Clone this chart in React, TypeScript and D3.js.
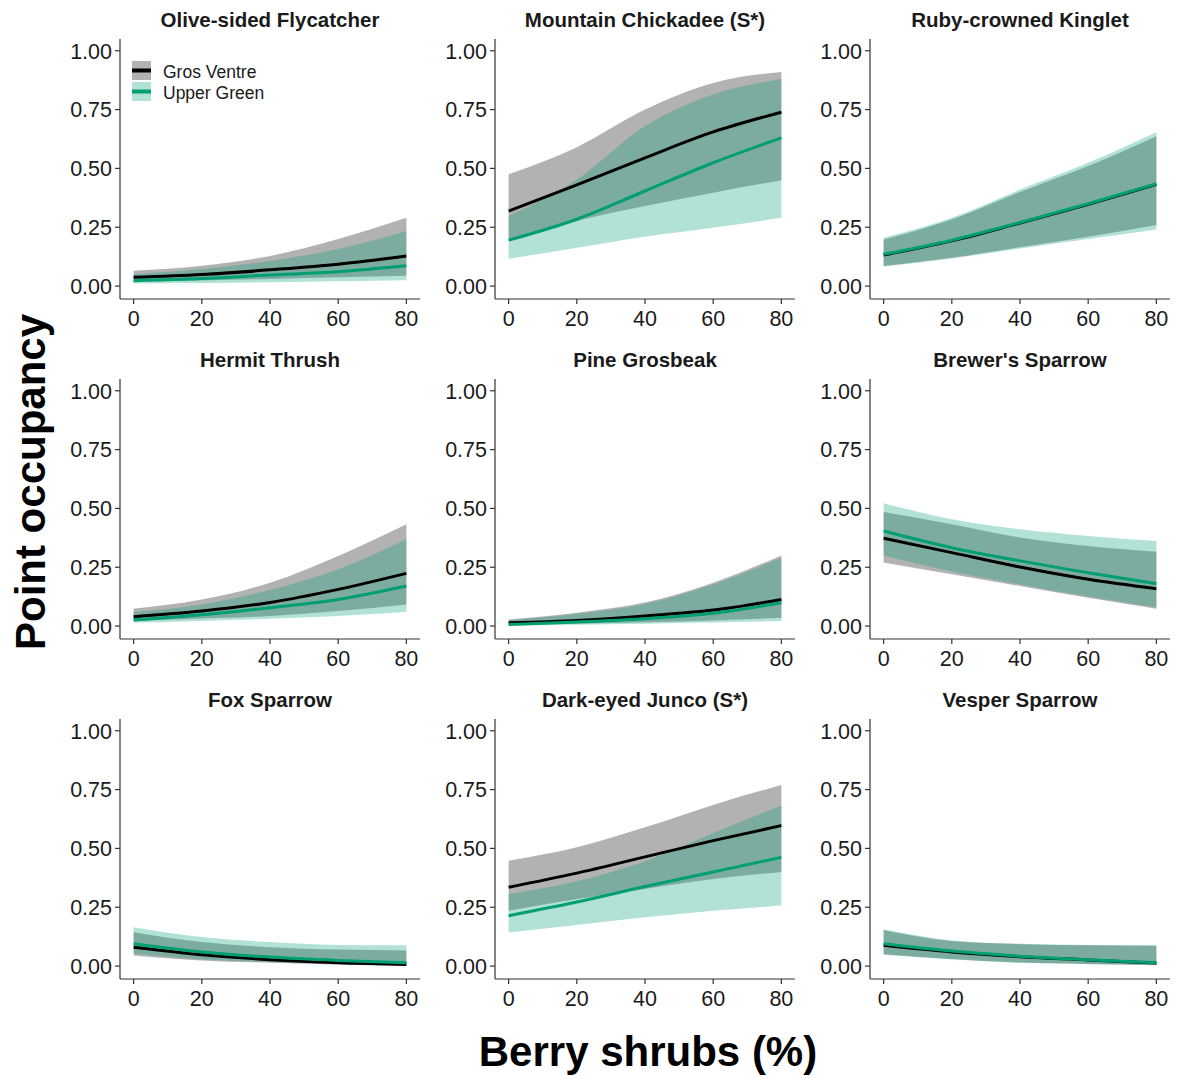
import React from "react";
import * as d3 from "d3";

// Occupancy predictions along a berry-shrub gradient, two study areas.
const SPECIES = [
  "Olive-sided Flycatcher",
  "Mountain Chickadee (S*)",
  "Ruby-crowned Kinglet",
  "Hermit Thrush",
  "Pine Grosbeak",
  "Brewer's Sparrow",
  "Fox Sparrow",
  "Dark-eyed Junco (S*)",
  "Vesper Sparrow",
];

const BERRY = [0, 20, 40, 60, 80];
const X_TICKS = [0, 20, 40, 60, 80];
const Y_TICKS = [0, 0.25, 0.5, 0.75, 1];
const AREAS = ["Gros Ventre", "Upper Green"];

// Gros Ventre: fitted occupancy and 95% bounds
const GV_FIT = [
  [0.037, 0.049, 0.069, 0.093, 0.128],
  [0.319, 0.43, 0.545, 0.655, 0.739],
  [0.132, 0.192, 0.268, 0.347, 0.432],
  [0.04, 0.064, 0.1, 0.156, 0.224],
  [0.014, 0.024, 0.043, 0.068, 0.113],
  [0.373, 0.312, 0.251, 0.199, 0.159],
  [0.08, 0.048, 0.027, 0.014, 0.007],
  [0.335, 0.395, 0.464, 0.533, 0.597],
  [0.088, 0.06, 0.04, 0.026, 0.013],
];
const GV_LO = [
  [0.018, 0.024, 0.03, 0.037, 0.044],
  [0.2, 0.277, 0.34, 0.397, 0.45],
  [0.085, 0.12, 0.165, 0.21, 0.26],
  [0.021, 0.032, 0.043, 0.064, 0.092],
  [0.006, 0.01, 0.016, 0.024, 0.035],
  [0.27, 0.22, 0.17, 0.12, 0.074],
  [0.045, 0.024, 0.014, 0.007, 0.003],
  [0.235, 0.285, 0.328, 0.37, 0.4],
  [0.05, 0.03, 0.015, 0.009, 0.004],
];
const GV_HI = [
  [0.065, 0.086, 0.128, 0.2, 0.29],
  [0.475, 0.59, 0.75, 0.863, 0.91],
  [0.198, 0.283, 0.4, 0.51, 0.637],
  [0.074, 0.113, 0.184, 0.298, 0.433],
  [0.028, 0.057, 0.1, 0.184, 0.3],
  [0.485, 0.433, 0.376, 0.34, 0.316],
  [0.144, 0.102, 0.08, 0.07, 0.066],
  [0.448, 0.505, 0.59, 0.685, 0.77],
  [0.152, 0.106, 0.093, 0.088, 0.086],
];

// Upper Green: fitted occupancy and 95% bounds
const UG_FIT = [
  [0.023, 0.032, 0.047, 0.061, 0.086],
  [0.195, 0.284, 0.404, 0.524, 0.63],
  [0.135, 0.195, 0.27, 0.35, 0.435],
  [0.026, 0.048, 0.078, 0.113, 0.17],
  [0.007, 0.017, 0.031, 0.054, 0.099],
  [0.404, 0.333, 0.277, 0.227, 0.18],
  [0.095, 0.06, 0.038, 0.024, 0.014],
  [0.214, 0.272, 0.338, 0.4, 0.462],
  [0.095, 0.064, 0.042, 0.027, 0.014],
];
const UG_LO = [
  [0.011, 0.013, 0.016, 0.02, 0.025],
  [0.116, 0.163, 0.21, 0.248, 0.29],
  [0.083, 0.117, 0.16, 0.2, 0.24],
  [0.014, 0.022, 0.031, 0.043, 0.06],
  [0.003, 0.006, 0.01, 0.015, 0.021],
  [0.3, 0.232, 0.177, 0.126, 0.08],
  [0.052, 0.028, 0.017, 0.01, 0.006],
  [0.143, 0.175, 0.207, 0.235, 0.257],
  [0.048, 0.028, 0.014, 0.008, 0.003],
];
const UG_HI = [
  [0.05, 0.072, 0.107, 0.157, 0.234],
  [0.298, 0.453, 0.68, 0.814, 0.88],
  [0.205, 0.29, 0.41, 0.524, 0.654],
  [0.06, 0.092, 0.153, 0.241, 0.369],
  [0.025, 0.052, 0.094, 0.177, 0.29],
  [0.522, 0.454, 0.411, 0.383, 0.362],
  [0.165, 0.123, 0.102, 0.09, 0.088],
  [0.306, 0.36, 0.445, 0.565, 0.682],
  [0.156, 0.109, 0.095, 0.09, 0.088],
];

const W = 1177;
const H = 1079;
const FONT = "'Liberation Sans', Arial, Helvetica, sans-serif";
const GREY_FILL = "#666666";
const GREEN = "#009E73";
const AXIS = "#333333";
const TEXT = "#1a1a1a";

const PANEL_W = 300;
const PANEL_H = 260;
const COL_STEP = 375;
const ROW_STEP = 340;
const LEFT0 = 120;
const TOP0 = 39;

function Panel({ idx }: { idx: number }) {
  const col = idx % 3;
  const row = Math.floor(idx / 3);
  const left = LEFT0 + col * COL_STEP;
  const top = TOP0 + row * ROW_STEP;

  const x = d3.scaleLinear().domain([-4, 84]).range([left, left + PANEL_W]);
  const y = d3.scaleLinear().domain([-0.055, 1.05]).range([top + PANEL_H, top]);

  const band = (lo: number[], hi: number[]) =>
    d3
      .area<number>()
      .x((_, i) => x(BERRY[i]))
      .y0((_, i) => y(lo[i]))
      .y1((_, i) => y(hi[i]))
      .curve(d3.curveMonotoneX)(lo) || "";
  const line = (v: number[]) =>
    d3
      .line<number>()
      .x((_, i) => x(BERRY[i]))
      .y((d) => y(d))
      .curve(d3.curveMonotoneX)(v) || "";

  const bottom = top + PANEL_H;

  return (
    <g>
      <text
        x={left + PANEL_W / 2}
        y={top - 12}
        textAnchor="middle"
        fontFamily={FONT}
        fontWeight="bold"
        fontSize={20.5}
        fill={TEXT}
      >
        {SPECIES[idx]}
      </text>

      <path d={band(GV_LO[idx], GV_HI[idx])} fill={GREY_FILL} fillOpacity={0.5} />
      <path d={band(UG_LO[idx], UG_HI[idx])} fill={GREEN} fillOpacity={0.3} />
      <path d={line(GV_FIT[idx])} fill="none" stroke="#000" strokeWidth={3} />
      <path d={line(UG_FIT[idx])} fill="none" stroke={GREEN} strokeWidth={3} />

      {/* axes */}
      <line x1={left} x2={left} y1={top} y2={bottom} stroke={AXIS} strokeWidth={1.2} />
      <line x1={left} x2={left + PANEL_W} y1={bottom} y2={bottom} stroke={AXIS} strokeWidth={1.2} />
      {Y_TICKS.map((t) => (
        <g key={"y" + t}>
          <line x1={left - 5} x2={left} y1={y(t)} y2={y(t)} stroke={AXIS} strokeWidth={1.2} />
          <text
            x={left - 8}
            y={y(t)}
            dy="0.36em"
            textAnchor="end"
            fontFamily={FONT}
            fontSize={21.5}
            fill={TEXT}
          >
            {d3.format(".2f")(t)}
          </text>
        </g>
      ))}
      {X_TICKS.map((t) => (
        <g key={"x" + t}>
          <line x1={x(t)} x2={x(t)} y1={bottom} y2={bottom + 5} stroke={AXIS} strokeWidth={1.2} />
          <text
            x={x(t)}
            y={bottom + 27}
            textAnchor="middle"
            fontFamily={FONT}
            fontSize={21.5}
            fill={TEXT}
          >
            {t}
          </text>
        </g>
      ))}
    </g>
  );
}

function Legend() {
  const kx = 132;
  const kw = 19;
  const rows = [
    { label: AREAS[0], fill: GREY_FILL, op: 0.5, stroke: "#000", y: 61 },
    { label: AREAS[1], fill: GREEN, op: 0.3, stroke: GREEN, y: 82 },
  ];
  return (
    <g>
      {rows.map((r) => (
        <g key={r.label}>
          <rect x={kx} y={r.y} width={kw} height={19} fill={r.fill} fillOpacity={r.op} />
          <line x1={kx} x2={kx + kw} y1={r.y + 9.5} y2={r.y + 9.5} stroke={r.stroke} strokeWidth={4} />
          <text
            x={163}
            y={r.y + 10.5}
            dy="0.36em"
            fontFamily={FONT}
            fontSize={17.5}
            fill={TEXT}
          >
            {r.label}
          </text>
        </g>
      ))}
    </g>
  );
}

export default function App() {
  return (
    <svg
      width={W}
      height={H}
      viewBox={`0 0 ${W} ${H}`}
      style={{ position: "absolute", left: 0, top: 0, background: "#fff" }}
    >
      <rect width={W} height={H} fill="#fff" />
      {SPECIES.map((_, i) => (
        <Panel key={i} idx={i} />
      ))}
      <Legend />
      <text
        transform="translate(45,482) rotate(-90)"
        textAnchor="middle"
        fontFamily={FONT}
        fontWeight="bold"
        fontSize={42}
        fill="#000"
      >
        Point occupancy
      </text>
      <text
        x={648}
        y={1066}
        textAnchor="middle"
        fontFamily={FONT}
        fontWeight="bold"
        fontSize={42}
        fill="#000"
      >
        Berry shrubs (%)
      </text>
    </svg>
  );
}
